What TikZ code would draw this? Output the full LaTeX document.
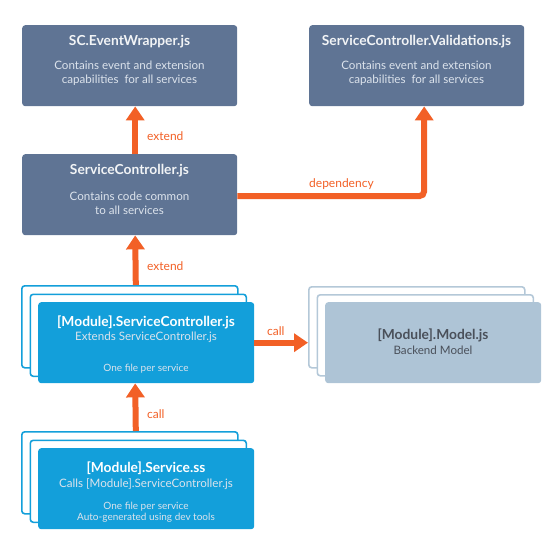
\documentclass[tikz,border=0pt]{standalone}
\usepackage{fontspec}
\setmainfont{Lato}
\usetikzlibrary{arrows.meta,positioning}
\definecolor{slate}{HTML}{5F7494}
\definecolor{oran}{HTML}{F26026}
\definecolor{sky}{HTML}{139FDA}
\definecolor{steel}{HTML}{AEC4D6}
\definecolor{steelline}{HTML}{B4C8D8}
\definecolor{paletxt}{HTML}{DCE3EC}
\definecolor{darktxt}{HTML}{4A505A}
\tikzset{
  box/.style={rounded corners=3pt, minimum width=216pt, minimum height=82pt, anchor=north west, inner sep=0pt},
  slatebox/.style={box, fill=slate, minimum width=215pt, minimum height=81pt},
  skyback/.style={box, draw=sky, line width=1.6pt, fill=white},
  skyfront/.style={box, fill=sky, minimum height=81pt},
  steelback/.style={box, draw=steelline, line width=1.6pt, fill=white, minimum height=81pt},
  steelfront/.style={box, fill=steel, minimum height=81pt},
  ttl/.style={font=\bfseries\fontsize{13.8}{15}\selectfont, text=white!92!slate, inner sep=0pt},
  bdy/.style={font=\fontsize{11.6}{14}\selectfont, text=paletxt, inner sep=0pt, align=center},
  sml/.style={font=\fontsize{10}{11}\selectfont, text=paletxt, inner sep=0pt, align=center},
  lbl/.style={font=\fontsize{12}{12}\selectfont, text=oran, inner sep=0pt, anchor=west},
  arr/.style={draw=oran, line width=6pt, -{Triangle[width=18pt,length=14pt]}},
}
\begin{document}
\begin{tikzpicture}[x=1pt,y=-1pt]
\useasboundingbox (0,0) rectangle (557,551);
% top row
\node[slatebox] (ew) at (22,25) {};
\node[slatebox] (val) at (309,25) {};
\node[slatebox] (sc) at (22,154) {};
\node[ttl] (ewt) at (129.5,41.5) {SC.EventWrapper.js};
\node[bdy] (ewb) at (129.5,73.5) {Contains event and extension\\capabilities\ \ for all services};
\node[ttl] (valt) at (416.5,41.5) {ServiceController.Validations.js};
\node[bdy] (valb) at (416.5,73.5) {Contains event and extension\\capabilities\ \ for all services};
\node[ttl] (sct) at (129.5,170.5) {ServiceController.js};
\node[bdy] (scb) at (129.5,203) {Contains code common\\to all services};
% module service controller stack
\node[skyback] (mb) at (21,285) {};
\node[skyback] (mm) at (29.5,293.5) {};
\node[skyfront] (mf) at (38,302) {};
\node[ttl, text=white] (mft) at (146,322) {[Module].ServiceController.js};
\node[bdy] (mfs) at (146,337.5) {Extends ServiceController.js};
\node[sml] (mfo) at (146,369) {One file per service};
% model stack
\node[steelback] (ob) at (308,286) {};
\node[steelback] (om) at (316.5,294) {};
\node[steelfront] (of) at (325,302) {};
\node[ttl, text=darktxt] (oft) at (433,335) {[Module].Model.js};
\node[bdy, text=darktxt] (ofs) at (433,350.5) {Backend Model};
% service stack
\node[skyback] (sb) at (21,431) {};
\node[skyback] (sm) at (29.5,439.5) {};
\node[skyfront] (sf) at (38,448) {};
\node[ttl, text=white] (sft) at (146,468) {[Module].Service.ss};
\node[bdy] (sfs) at (146,484.5) {Calls [Module].ServiceController.js};
\node[sml] (sfo) at (146,512.5) {One file per service\\Auto-generated using dev tools};
% connectors
\draw[arr] ([xshift=5.5pt]sc.north) -- ([xshift=5.5pt]ew.south);
\node[lbl] (l1) at (147,136) {extend};
\draw[arr, rounded corners=5pt] ([yshift=-1.5pt]sc.east) -| ([xshift=7.5pt]val.south);
\node[lbl] (l2) at (309,184) {dependency};
\draw[arr] ([xshift=6pt]mb.north) -- ([xshift=5.5pt]sc.south);
\node[lbl] (l3) at (147,266) {extend};
\draw[arr] (mf.east) -- (mf.east -| ob.west);
\node[lbl] (l4) at (267,331.5) {call};
\draw[arr] ([xshift=6pt]sb.north) -- ([xshift=-11pt]mf.south);
\node[lbl] (l5) at (147,414) {call};
\end{tikzpicture}
\end{document}
